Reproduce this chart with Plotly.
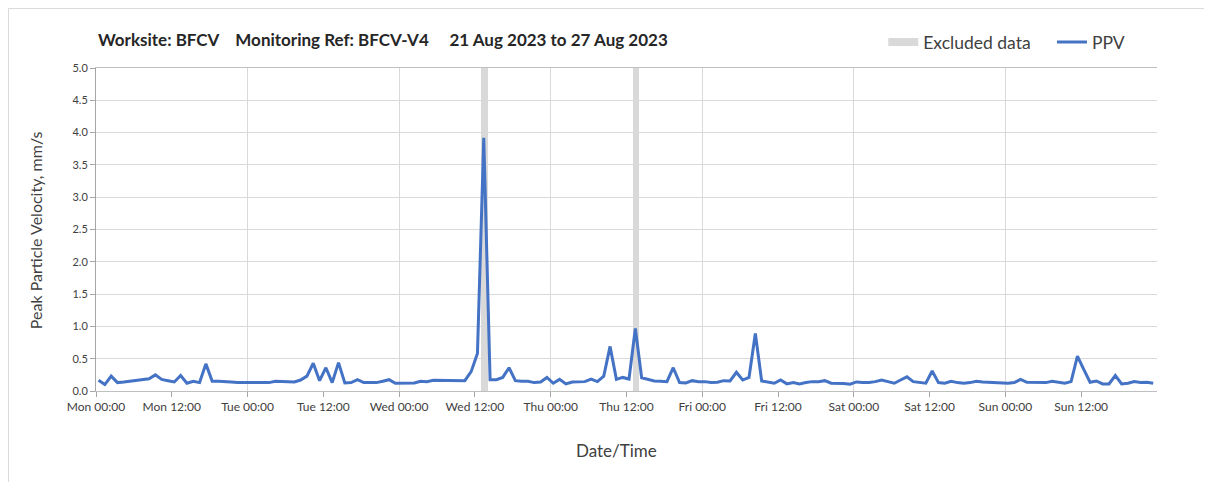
import pandas as pd
import plotly.graph_objects as go

# ---------------- data ----------------
start_time = "2023-08-21 00:24"
ppv_mon_tue = [0.165, 0.10, 0.23, 0.13, 0.14, 0.15, 0.165, 0.18, 0.19, 0.25, 0.18, 0.16,
               0.14, 0.24, 0.12, 0.15, 0.13, 0.42, 0.15, 0.15, 0.15, 0.14, 0.13, 0.13,
               0.135, 0.13, 0.13, 0.13, 0.15, 0.15, 0.15, 0.14, 0.17]
ppv_tue_wed = [0.23, 0.43, 0.16, 0.36, 0.13, 0.44, 0.125, 0.13, 0.175, 0.13, 0.13, 0.13,
               0.15, 0.175, 0.12, 0.12, 0.12, 0.125, 0.15, 0.145, 0.165, 0.165, 0.16, 0.16,
               0.16, 0.16, 0.30, 0.58, 3.92, 0.175, 0.175, 0.21, 0.36]
ppv_wed_thu = [0.16, 0.15, 0.15, 0.13, 0.14, 0.21, 0.12, 0.18, 0.11, 0.14, 0.145, 0.145,
               0.185, 0.145, 0.23, 0.69, 0.18, 0.21, 0.185, 0.97, 0.205, 0.18, 0.155, 0.15,
               0.145, 0.36, 0.13, 0.125, 0.16, 0.145, 0.145, 0.13, 0.135, 0.16]
ppv_fri_sat = [0.155, 0.29, 0.17, 0.21, 0.89, 0.155, 0.14, 0.12, 0.17, 0.11, 0.13, 0.11,
               0.13, 0.145, 0.145, 0.16, 0.12, 0.12, 0.115, 0.105, 0.14, 0.13, 0.13, 0.145,
               0.17, 0.145, 0.12, 0.17, 0.22, 0.145, 0.13, 0.12, 0.31]
ppv_sat_sun = [0.13, 0.12, 0.15, 0.13, 0.12, 0.13, 0.15, 0.14, 0.135, 0.12, 0.12, 0.12,
               0.13, 0.18, 0.135, 0.135, 0.135, 0.13, 0.15, 0.13, 0.12, 0.145, 0.54, 0.335,
               0.135, 0.155, 0.11, 0.11, 0.24, 0.11, 0.12, 0.145, 0.13, 0.135, 0.12]

excluded_start = ["2023-08-23 13:00", "2023-08-24 13:00"]
excluded_end = ["2023-08-23 14:00", "2023-08-24 14:00"]

tick_times = ["2023-08-21 00:00", "2023-08-21 12:00", "2023-08-22 00:00", "2023-08-22 12:00",
              "2023-08-23 00:00", "2023-08-23 12:00", "2023-08-24 00:00", "2023-08-24 12:00",
              "2023-08-25 00:00", "2023-08-25 12:00", "2023-08-26 00:00", "2023-08-26 12:00",
              "2023-08-27 00:00", "2023-08-27 12:00"]
tick_labels = ["Mon 00:00", "Mon 12:00", "Tue 00:00", "Tue 12:00", "Wed 00:00", "Wed 12:00",
               "Thu 00:00", "Thu 12:00", "Fri 00:00", "Fri 12:00", "Sat 00:00", "Sat 12:00",
               "Sun 00:00", "Sun 12:00"]
x_range = ["2023-08-21 00:00", "2023-08-28 00:00"]
y_max = 5.0

# ---------------- build ----------------
ppv = ppv_mon_tue + ppv_tue_wed + ppv_wed_thu + ppv_fri_sat + ppv_sat_sun
times = pd.date_range(start_time, periods=len(ppv), freq="h")

ex_s = pd.to_datetime(excluded_start)
ex_e = pd.to_datetime(excluded_end)
ex_mid = ex_s + (ex_e - ex_s) / 2
ex_w = [(e - s).total_seconds() * 1000 for s, e in zip(ex_s, ex_e)]

FONT = "Lato, 'Open Sans', sans-serif"
EXCL_COLOR = "#d9d9d9"
fig = go.Figure()

fig.add_trace(go.Bar(
    x=ex_mid, y=[y_max] * len(ex_mid), width=ex_w,
    marker=dict(color=EXCL_COLOR, line=dict(width=0)),
    name="Excluded data", legendgroup="excl", showlegend=False,
    xaxis="x", yaxis="y", hoverinfo="skip",
))
# legend entry for the excluded bands (wide flat swatch like the original)
fig.add_trace(go.Scatter(
    x=[None], y=[None], mode="lines", name="Excluded data", legendgroup="excl",
    line=dict(color=EXCL_COLOR, width=8), xaxis="x", yaxis="y",
    legend="legend", hoverinfo="skip",
))
fig.add_trace(go.Scatter(
    x=times, y=ppv, mode="lines", name="PPV",
    line=dict(color="#4472c4", width=3),
    xaxis="x2", yaxis="y", legend="legend2",
))

legend_common = dict(orientation="h", yanchor="middle", xanchor="left",
                     font=dict(size=17.5, color="#404040", family=FONT),
                     itemwidth=30, bgcolor="rgba(0,0,0,0)")

fig.update_layout(
    width=1204, height=474,
    margin=dict(l=88, r=55, t=60, b=91),
    paper_bgcolor="white", plot_bgcolor="white",
    font=dict(family=FONT, color="#404040"),
    showlegend=True,
    legend=dict(x=0.742, y=1.08, **legend_common),
    legend2=dict(x=0.901, y=1.08, **legend_common),
    bargap=0,
    xaxis=dict(
        type="date", range=x_range, dtick=86400000, tick0="2023-08-21",
        showgrid=True, gridcolor="#d9d9d9", gridwidth=1,
        showticklabels=False, ticks="",
        showline=True, linecolor="#bfbfbf", linewidth=1, mirror=True,
        zeroline=False,
    ),
    xaxis2=dict(
        type="date", range=x_range, overlaying="x", anchor="y", side="bottom",
        tickmode="array", tickvals=tick_times, ticktext=tick_labels,
        showgrid=False, ticks="outside", ticklen=5, tickcolor="#a6a6a6",
        tickfont=dict(size=12, color="#404040"),
        showline=False, zeroline=False,
    ),
    yaxis=dict(
        range=[0, y_max], dtick=0.5, tick0=0, tickformat=".1f",
        showgrid=True, gridcolor="#d9d9d9", gridwidth=1,
        ticks="outside", ticklen=5, tickcolor="#a6a6a6",
        tickfont=dict(size=11, color="#404040"),
        showline=True, linecolor="#a6a6a6", linewidth=1,
        zeroline=False,
    ),
    annotations=[
        dict(text="<b>Worksite: BFCV    Monitoring Ref: BFCV-V4     21 Aug 2023 to 27 Aug 2023</b>",
             xref="paper", yref="paper", x=0, y=1.087, xanchor="left", yanchor="middle",
             showarrow=False, font=dict(size=17, color="#262626", family=FONT)),
        dict(text="Peak Particle Velocity, mm/s", textangle=-90,
             xref="paper", yref="paper", x=-0.0575, y=0.498, xanchor="center", yanchor="middle",
             showarrow=False, font=dict(size=16, color="#404040", family=FONT)),
        dict(text="Date/Time",
             xref="paper", yref="paper", x=0.491, y=-0.183, xanchor="center", yanchor="middle",
             showarrow=False, font=dict(size=17, color="#404040", family=FONT)),
    ],
    shapes=[
        dict(type="rect", xref="paper", yref="paper", x0=-0.0825, x1=1.0505, y0=-0.29, y1=1.184,
             line=dict(color="#d9d9d9", width=1), fillcolor="rgba(0,0,0,0)", layer="below"),
    ],
)

fig.write_html("out.html")
